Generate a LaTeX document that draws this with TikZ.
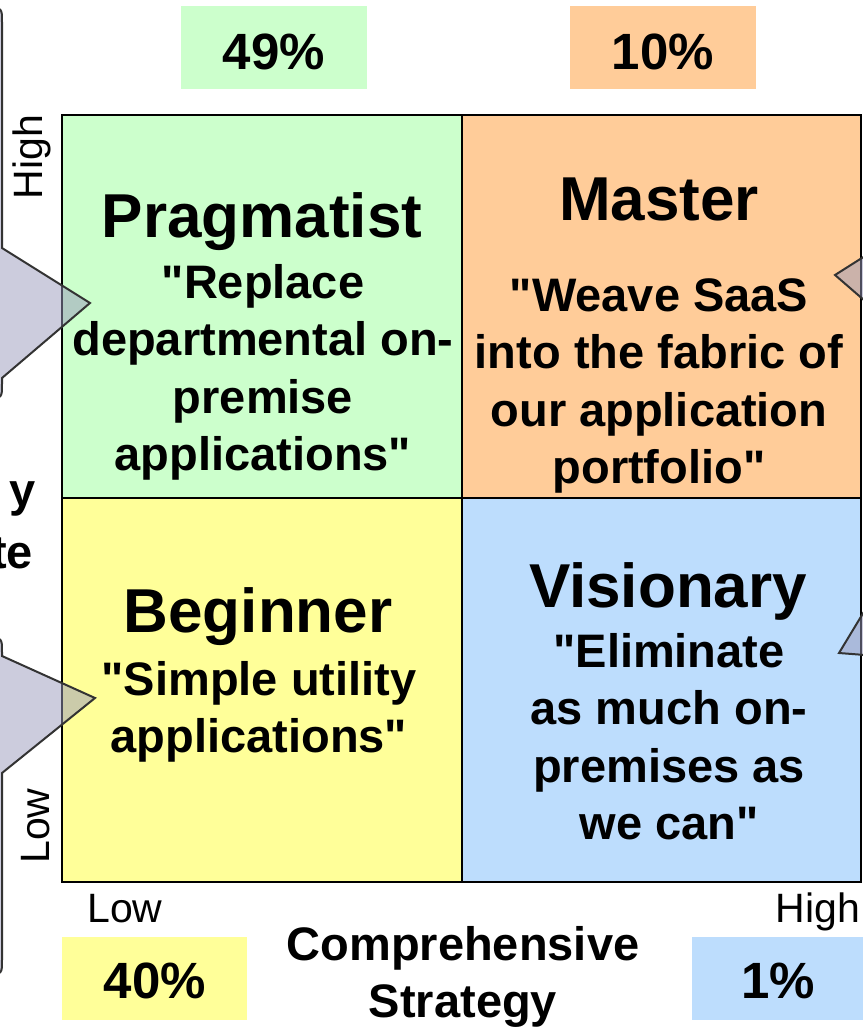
\documentclass[tikz,border=0pt]{standalone}
\usepackage{fontspec}
\setmainfont{Liberation Sans}
\newcommand{\dq}{\XeTeXglyph\XeTeXglyphindex "quotedbl"\relax}
\definecolor{cgreen}{HTML}{CCFFCC}
\definecolor{corange}{HTML}{FFCC99}
\definecolor{cyellow}{HTML}{FFFF99}
\definecolor{cblue}{RGB}{189,221,253}
\definecolor{ccall}{RGB}{153,153,187}
\definecolor{cline}{RGB}{51,51,51}
\begin{document}
\begin{tikzpicture}[x=1pt,y=-1pt,
  cell/.style={draw=black, line width=2pt, inner sep=0pt, outer sep=0pt, anchor=north west},
  pctbox/.style={inner sep=0pt, outer sep=0pt, minimum width=186pt, minimum height=83pt, anchor=north west},
  pct/.style={font=\bfseries\fontsize{51}{60}\selectfont, inner sep=0pt, anchor=base},
  title/.style={font=\bfseries\fontsize{62}{72}\selectfont, inner sep=0pt, anchor=base},
  quote/.style={font=\bfseries\fontsize{47}{57.5}\selectfont, align=center, inner sep=0pt, anchor=base},
  axis/.style={font=\fontsize{41}{49}\selectfont, inner sep=0pt, anchor=base},
  callout/.style={draw=cline, line width=2pt, line join=miter, fill=ccall, fill opacity=0.5, draw opacity=1}]
\useasboundingbox (0,0) rectangle (862,1027);
% quadrant cells
\node[cell, fill=cgreen, minimum width=400pt, minimum height=383pt] (prag) at (62,115) {};
\node[cell, fill=corange, minimum width=399pt, minimum height=383pt] (mast) at (462,115) {};
\node[cell, fill=cyellow, minimum width=400pt, minimum height=384pt] (begi) at (62,498) {};
\node[cell, fill=cblue, minimum width=399pt, minimum height=384pt] (visi) at (462,498) {};
% percentage boxes
\node[pctbox, fill=cgreen] (b49) at (181,6) {};
\node[pctbox, fill=corange] (b10) at (570,6) {};
\node[pctbox, fill=cyellow, minimum width=185pt] (b40) at (62,937) {};
\node[pctbox, fill=cblue] (b1) at (692,937) {};
\node[pct] (t49) at (274,70) {49\%};
\node[pct] (t10) at (663,70) {10\%};
\node[pct] (t40) at (155,998) {40\%};
\node[pct] (t1) at (778,998) {1\%};
% callouts
\path[callout] (-300,8) -- (-12,8) .. controls (2,8) .. (2,22) -- (2,248) -- (90,303) -- (2,378)
  -- (2,384) .. controls (2,398) .. (-12,398) -- (-300,398) -- cycle;
\path[callout] (-300,638) -- (-12,638) .. controls (2,638) .. (2,652) -- (2,656) -- (95,698) -- (2,773)
  -- (2,960) .. controls (2,974) .. (-12,974) -- (-300,974) -- cycle;
\path[callout] (1100,200) -- (865,200) -- (865,256) -- (835,275) -- (865,301) -- (865,400) -- (1100,400) -- cycle;
\path[callout] (1100,560) -- (865,560) -- (865,610) -- (839,653) -- (865,655) -- (865,760) -- (1100,760) -- cycle;
% quadrant texts (base anchor = last line baseline)
\node[title] (pragT) at (262,237) {Pragmatist};
\node[quote] (pragQ) at (263,470.5) {\dq Replace\\departmental on-\\premise\\applications\dq};
\node[title] (mastT) at (659,220) {Master};
\node[quote] (mastQ) at (659,483.5) {\dq Weave SaaS\\into the fabric of\\our application\\portfolio\dq};
\node[title] (begiT) at (258,632) {Beginner};
\node[quote] (begiQ) at (259,752.5) {\dq Simple utility\\applications\dq};
\node[title] (visiT) at (668,607) {Visionary};
\node[quote] (visiQ) at (669,839.5) {\dq Eliminate\\as much on-\\premises as\\we can\dq};
% axis labels
\node[axis] (xlow) at (125,922) {Low};
\node[axis] (xhigh) at (818,922) {High};
\node[axis, rotate=90] (yhigh) at (42,157) {High};
\node[axis, rotate=90] (ylow) at (49,826) {Low};
\node[quote] (xtitle) at (463,1017.5) {Comprehensive\\Strategy};
\node[quote, anchor=base east] (ycut1) at (36,506) {y};
\node[quote, anchor=base east] (ycut2) at (33,568) {te};
\end{tikzpicture}
\end{document}
